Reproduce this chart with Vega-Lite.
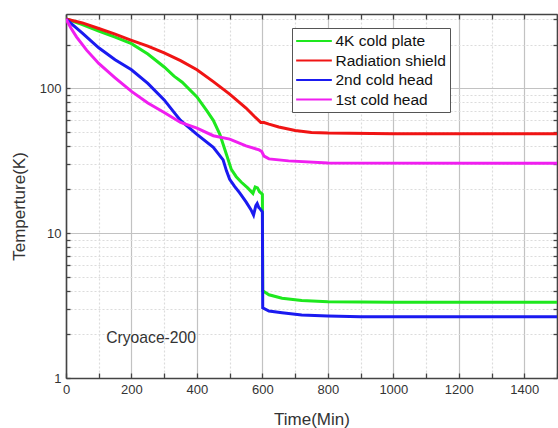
{
  "$schema": "https://vega.github.io/schema/vega-lite/v6.json",
  "width": 491,
  "height": 364,
  "autosize": "none",
  "padding": {"left": 66, "top": 14, "right": 1, "bottom": 50},
  "background": "white",
  "config": {"font": "Liberation Sans", "view": {"stroke": null}},
  "datasets": {
    "curves": [
      {"time": 0, "temp": 300, "sensor": "4K cold plate"},
      {"time": 50, "temp": 275, "sensor": "4K cold plate"},
      {"time": 100, "temp": 248, "sensor": "4K cold plate"},
      {"time": 150, "temp": 225, "sensor": "4K cold plate"},
      {"time": 200, "temp": 203, "sensor": "4K cold plate"},
      {"time": 250, "temp": 172, "sensor": "4K cold plate"},
      {"time": 300, "temp": 140, "sensor": "4K cold plate"},
      {"time": 330, "temp": 121, "sensor": "4K cold plate"},
      {"time": 355, "temp": 110, "sensor": "4K cold plate"},
      {"time": 400, "temp": 87, "sensor": "4K cold plate"},
      {"time": 430, "temp": 70, "sensor": "4K cold plate"},
      {"time": 450, "temp": 60, "sensor": "4K cold plate"},
      {"time": 470, "temp": 48, "sensor": "4K cold plate"},
      {"time": 490, "temp": 35, "sensor": "4K cold plate"},
      {"time": 505, "temp": 27.5, "sensor": "4K cold plate"},
      {"time": 520, "temp": 24.5, "sensor": "4K cold plate"},
      {"time": 535, "temp": 22.5, "sensor": "4K cold plate"},
      {"time": 555, "temp": 20.5, "sensor": "4K cold plate"},
      {"time": 571, "temp": 18.8, "sensor": "4K cold plate"},
      {"time": 578, "temp": 20.8, "sensor": "4K cold plate"},
      {"time": 585, "temp": 20.5, "sensor": "4K cold plate"},
      {"time": 591, "temp": 19.3, "sensor": "4K cold plate"},
      {"time": 597, "temp": 18.8, "sensor": "4K cold plate"},
      {"time": 600, "temp": 18.5, "sensor": "4K cold plate"},
      {"time": 601, "temp": 4.0, "sensor": "4K cold plate"},
      {"time": 620, "temp": 3.75, "sensor": "4K cold plate"},
      {"time": 660, "temp": 3.55, "sensor": "4K cold plate"},
      {"time": 720, "temp": 3.42, "sensor": "4K cold plate"},
      {"time": 800, "temp": 3.36, "sensor": "4K cold plate"},
      {"time": 1000, "temp": 3.33, "sensor": "4K cold plate"},
      {"time": 1500, "temp": 3.33, "sensor": "4K cold plate"},

      {"time": 0, "temp": 300, "sensor": "Radiation shield"},
      {"time": 50, "temp": 282, "sensor": "Radiation shield"},
      {"time": 100, "temp": 258, "sensor": "Radiation shield"},
      {"time": 150, "temp": 236, "sensor": "Radiation shield"},
      {"time": 200, "temp": 214, "sensor": "Radiation shield"},
      {"time": 250, "temp": 195, "sensor": "Radiation shield"},
      {"time": 300, "temp": 175, "sensor": "Radiation shield"},
      {"time": 350, "temp": 155, "sensor": "Radiation shield"},
      {"time": 400, "temp": 134, "sensor": "Radiation shield"},
      {"time": 450, "temp": 111, "sensor": "Radiation shield"},
      {"time": 500, "temp": 91, "sensor": "Radiation shield"},
      {"time": 550, "temp": 73, "sensor": "Radiation shield"},
      {"time": 575, "temp": 64, "sensor": "Radiation shield"},
      {"time": 595, "temp": 58, "sensor": "Radiation shield"},
      {"time": 605, "temp": 58, "sensor": "Radiation shield"},
      {"time": 620, "temp": 56.5, "sensor": "Radiation shield"},
      {"time": 650, "temp": 54, "sensor": "Radiation shield"},
      {"time": 700, "temp": 51, "sensor": "Radiation shield"},
      {"time": 750, "temp": 49.5, "sensor": "Radiation shield"},
      {"time": 800, "temp": 49, "sensor": "Radiation shield"},
      {"time": 1000, "temp": 48.5, "sensor": "Radiation shield"},
      {"time": 1500, "temp": 48.5, "sensor": "Radiation shield"},

      {"time": 0, "temp": 300, "sensor": "2nd cold head"},
      {"time": 25, "temp": 268, "sensor": "2nd cold head"},
      {"time": 50, "temp": 240, "sensor": "2nd cold head"},
      {"time": 100, "temp": 190, "sensor": "2nd cold head"},
      {"time": 150, "temp": 157, "sensor": "2nd cold head"},
      {"time": 200, "temp": 134, "sensor": "2nd cold head"},
      {"time": 250, "temp": 108, "sensor": "2nd cold head"},
      {"time": 300, "temp": 83, "sensor": "2nd cold head"},
      {"time": 335, "temp": 66, "sensor": "2nd cold head"},
      {"time": 350, "temp": 60, "sensor": "2nd cold head"},
      {"time": 400, "temp": 48, "sensor": "2nd cold head"},
      {"time": 450, "temp": 39, "sensor": "2nd cold head"},
      {"time": 480, "temp": 32, "sensor": "2nd cold head"},
      {"time": 490, "temp": 27, "sensor": "2nd cold head"},
      {"time": 500, "temp": 23.5, "sensor": "2nd cold head"},
      {"time": 515, "temp": 21, "sensor": "2nd cold head"},
      {"time": 530, "temp": 19, "sensor": "2nd cold head"},
      {"time": 550, "temp": 16.4, "sensor": "2nd cold head"},
      {"time": 565, "temp": 14.5, "sensor": "2nd cold head"},
      {"time": 573, "temp": 13.3, "sensor": "2nd cold head"},
      {"time": 580, "temp": 15.5, "sensor": "2nd cold head"},
      {"time": 584, "temp": 16, "sensor": "2nd cold head"},
      {"time": 589, "temp": 15, "sensor": "2nd cold head"},
      {"time": 592, "temp": 14.8, "sensor": "2nd cold head"},
      {"time": 597, "temp": 14.3, "sensor": "2nd cold head"},
      {"time": 600, "temp": 14, "sensor": "2nd cold head"},
      {"time": 601, "temp": 3.05, "sensor": "2nd cold head"},
      {"time": 620, "temp": 2.9, "sensor": "2nd cold head"},
      {"time": 660, "temp": 2.82, "sensor": "2nd cold head"},
      {"time": 720, "temp": 2.72, "sensor": "2nd cold head"},
      {"time": 800, "temp": 2.68, "sensor": "2nd cold head"},
      {"time": 900, "temp": 2.65, "sensor": "2nd cold head"},
      {"time": 1500, "temp": 2.65, "sensor": "2nd cold head"},

      {"time": 0, "temp": 300, "sensor": "1st cold head"},
      {"time": 15, "temp": 260, "sensor": "1st cold head"},
      {"time": 32, "temp": 226, "sensor": "1st cold head"},
      {"time": 63, "temp": 183, "sensor": "1st cold head"},
      {"time": 100, "temp": 148, "sensor": "1st cold head"},
      {"time": 150, "temp": 118, "sensor": "1st cold head"},
      {"time": 200, "temp": 95, "sensor": "1st cold head"},
      {"time": 250, "temp": 79, "sensor": "1st cold head"},
      {"time": 300, "temp": 68, "sensor": "1st cold head"},
      {"time": 350, "temp": 58, "sensor": "1st cold head"},
      {"time": 400, "temp": 53, "sensor": "1st cold head"},
      {"time": 450, "temp": 47, "sensor": "1st cold head"},
      {"time": 500, "temp": 44.5, "sensor": "1st cold head"},
      {"time": 550, "temp": 40, "sensor": "1st cold head"},
      {"time": 590, "temp": 37.5, "sensor": "1st cold head"},
      {"time": 598, "temp": 36.5, "sensor": "1st cold head"},
      {"time": 605, "temp": 34, "sensor": "1st cold head"},
      {"time": 620, "temp": 32.5, "sensor": "1st cold head"},
      {"time": 680, "temp": 31.5, "sensor": "1st cold head"},
      {"time": 800, "temp": 30.5, "sensor": "1st cold head"},
      {"time": 1500, "temp": 30.3, "sensor": "1st cold head"}
    ],
    "notes": [
      {"time": 260, "temp": 1.9, "label": "Cryoace-200"}
    ]
  },
  "layer": [
    {
      "data": {"name": "curves"},
      "mark": {"type": "line", "strokeWidth": 3, "clip": true},
      "encoding": {
        "x": {
          "field": "time", "type": "quantitative",
          "scale": {"domain": [0, 1500], "nice": false, "zero": false},
          "axis": {
            "values": [0,100,200,300,400,500,600,700,800,900,1000,1100,1200,1300,1400,1500],
            "labelExpr": "datum.value % 200 == 0 ? datum.value : ''",
            "grid": true,
            "gridColor": {"condition": {"test": "datum.value % 200 == 0", "value": "#c2c2c2"}, "value": "#dcdcdc"},
            "gridDash": {"condition": {"test": "datum.value % 200 == 0", "value": []}, "value": [2, 2]},
            "gridWidth": 1.2,
            "tickSize": -5, "tickColor": "#444", "tickWidth": 1.3,
            "labelPadding": 10, "labelFontSize": 13, "labelColor": "#333", "labelFlush": false,
            "domainColor": "#444", "domainWidth": 1.6,
            "title": "Time(Min)", "titleFontSize": 17, "titleFontWeight": "normal", "titleColor": "#333", "titlePadding": 15
          }
        },
        "y": {
          "field": "temp", "type": "quantitative",
          "scale": {"type": "log", "domain": [1, 325], "nice": false},
          "axis": {
            "values": [1,2,3,4,5,6,7,8,9,10,20,30,40,50,60,70,80,90,100,200,300],
            "labelExpr": "(datum.value == 1 || datum.value == 10 || datum.value == 100) ? datum.value : ''",
            "grid": true,
            "gridColor": {"condition": {"test": "datum.value == 1 || datum.value == 10 || datum.value == 100", "value": "#c2c2c2"}, "value": "#dcdcdc"},
            "gridDash": {"condition": {"test": "datum.value == 1 || datum.value == 10 || datum.value == 100", "value": []}, "value": [2, 2]},
            "gridWidth": 1.2,
            "tickSize": -4, "tickColor": "#444", "tickWidth": 1.3,
            "labelPadding": 9, "labelFontSize": 13, "labelColor": "#333", "labelFlush": false,
            "domainColor": "#444", "domainWidth": 1.6,
            "title": "Temperture(K)", "titleFontSize": 17, "titleFontWeight": "normal", "titleColor": "#333",
            "titleY": 192, "titlePadding": 11
          }
        },
        "color": {
          "field": "sensor", "type": "nominal",
          "scale": {
            "domain": ["4K cold plate", "Radiation shield", "2nd cold head", "1st cold head"],
            "range": ["#1ee81e", "#f01414", "#1a1af0", "#f01ef0"]
          },
          "legend": {
            "title": null,
            "orient": "none",
            "legendX": 226,
            "legendY": 14,
            "symbolType": "M-2.1,0H2.1",
            "symbolSize": 289,
            "symbolOffset": 9,
            "symbolStrokeWidth": 2,
            "labelFontSize": 15.5,
            "labelColor": "#111",
            "labelOffset": 12,
            "rowPadding": 1.5,
            "padding": 3.5,
            "strokeColor": "#555",
            "fillColor": "white"
          }
        }
      }
    },
    {
      "data": {"name": "notes"},
      "mark": {"type": "text", "fontSize": 15.7, "color": "#333", "align": "center", "baseline": "middle"},
      "encoding": {
        "x": {
          "field": "time", "type": "quantitative",
          "axis": {
            "orient": "top", "values": [0,100,200,300,400,500,600,700,800,900,1000,1100,1200,1300,1400,1500],
            "labels": false, "grid": false, "title": null,
            "tickSize": -5, "tickColor": "#444", "tickWidth": 1.3, "domainColor": "#444", "domainWidth": 1.6
          }
        },
        "y": {
          "field": "temp", "type": "quantitative",
          "axis": {
            "orient": "right", "values": [1,2,3,4,5,6,7,8,9,10,20,30,40,50,60,70,80,90,100,200,300],
            "labels": false, "grid": false, "title": null,
            "tickSize": -4, "tickColor": "#444", "tickWidth": 1.3, "domainColor": "#444", "domainWidth": 1.6
          }
        },
        "text": {"field": "label"}
      }
    }
  ],
  "resolve": {"axis": {"x": "independent", "y": "independent"}}
}
